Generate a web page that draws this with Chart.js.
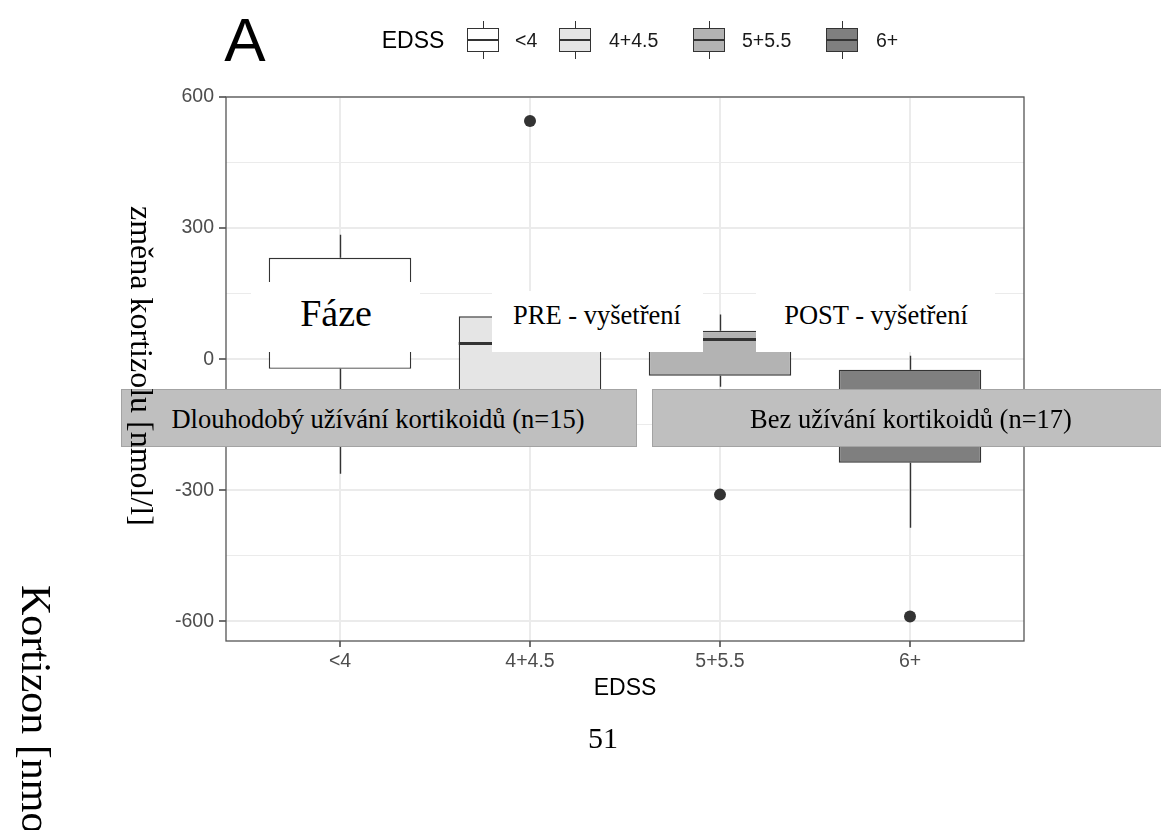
<!DOCTYPE html>
<html>
<head>
<meta charset="utf-8">
<script src="https://cdn.jsdelivr.net/npm/chart.js@4.4.0/dist/chart.umd.min.js"></script>
<style>
html, body { margin: 0; padding: 0; background: #fff; overflow: hidden; }
#wrap { position: relative; width: 1161px; height: 830px; overflow: hidden; }
#chart { position: absolute; left: 0; top: 0; }
.t { position: absolute; white-space: nowrap; transform: translate(-50%, -50%); line-height: 1.15; }
.serif { font-family: "Liberation Serif", "DejaVu Serif", serif; color: #000; }
.sans { font-family: "Liberation Sans", Arial, sans-serif; color: #000; }
.vert { position: absolute; writing-mode: vertical-rl; white-space: nowrap; line-height: 1; }
.wbox { position: absolute; background: #fff; }
.strip { position: absolute; background: #bfbfbf; border: 1px solid #a3a3a3; box-sizing: border-box; }
.key { position: absolute; width: 32px; height: 24px; border: 1.4px solid #333; box-sizing: border-box; }
.key .med { position: absolute; left: 0; right: 0; top: 9.5px; height: 2.4px; background: #333; }
.key .wu, .key .wd { position: absolute; left: 14.5px; width: 1.2px; height: 7px; background: #333; }
.key .wu { top: -8px; }
.key .wd { bottom: -8px; }
</style>
</head>
<body>
<div id="wrap">
  <canvas id="chart" width="1161" height="830"></canvas>

  <div class="t sans" style="left:245px; top:40px; font-size:62px;">A</div>
  <div class="t sans" style="left:413px; top:40px; font-size:23px;">EDSS</div>
  <div id="legend"></div>

  <div class="wbox" style="left:251px; top:282px; width:169px; height:70px;"></div>
  <div class="t serif" style="left:336px; top:314px; font-size:38px;">Fáze</div>
  <div class="wbox" style="left:492px; top:291px; width:211px; height:61px;"></div>
  <div class="t serif" style="left:597px; top:315px; font-size:26.5px;">PRE - vyšetření</div>
  <div class="wbox" style="left:756px; top:291px; width:239px; height:61px;"></div>
  <div class="t serif" style="left:876px; top:315px; font-size:26.5px;">POST - vyšetření</div>

  <div class="strip" style="left:121px; top:389px; width:516px; height:58px;"></div>
  <div class="t serif" style="left:378px; top:419px; font-size:26.5px;">Dlouhodobý užívání kortikoidů (n=15)</div>
  <div class="strip" style="left:652px; top:389px; width:520px; height:58px;"></div>
  <div class="t serif" style="left:911px; top:419px; font-size:26.5px;">Bez užívání kortikoidů (n=17)</div>

  <div class="vert serif" style="left:126px; top:206px; font-size:32px;">změna kortizolu [nmol/l]</div>
  <div class="vert serif" style="left:15px; top:585px; font-size:42px;">Kortizon [nmol/l]</div>

  <div class="t serif" style="left:603px; top:738px; font-size:30px;">51</div>
</div>

<script>
// EDSS groups and box statistics
const categories = ['<4', '4+4.5', '5+5.5', '6+'];
const lowerWhisker = [-262, -180, -63, -386];
const q1 = [-22, -130, -38, -237];
const median = [100, 36, 45, -130];
const q3 = [232, 98, 65, -24];
const upperWhisker = [285, 140, 102, 8];
const outliers = [[], [545], [-310], [-589]];
const yTicks = [-600, -300, 0, 300, 600];

const fills = ['#ffffff', '#e5e5e5', '#b3b3b3', '#7f7f7f'];
const ink = '#333333';

// legend keys (html)
const keyX = [467, 559, 693, 826];
const labX = [515, 609, 742, 876];
const legend = document.getElementById('legend');
categories.forEach(function (c, i) {
    const k = document.createElement('div');
    k.className = 'key';
    k.style.left = keyX[i] + 'px';
    k.style.top = '28px';
    k.style.background = fills[i];
    k.innerHTML = '<div class="wu"></div><div class="med"></div><div class="wd"></div>';
    legend.appendChild(k);
    const l = document.createElement('div');
    l.className = 'sans';
    l.style.cssText = 'position:absolute;top:28px;font-size:19.5px;line-height:24px;color:#1a1a1a;left:' + labX[i] + 'px';
    l.textContent = c;
    legend.appendChild(l);
});

const boxData = categories.map(function (c, i) { return { x: i + 1, y: [q1[i], q3[i]] }; });
const outlierData = [];
outliers.forEach(function (arr, i) {
    arr.forEach(function (v) { outlierData.push({ x: i + 1, y: v }); });
});

const boxPlugin = {
    id: 'boxes',
    beforeDatasetsDraw: function (chart) {
        const c = chart.ctx, xs = chart.scales.x, ys = chart.scales.y;
        c.save();
        c.strokeStyle = ink;
        c.lineWidth = 1.4;
        categories.forEach(function (cat, i) {
            const x = Math.round(xs.getPixelForValue(i + 1)) + 0.5;
            c.beginPath();
            c.moveTo(x, ys.getPixelForValue(upperWhisker[i]));
            c.lineTo(x, ys.getPixelForValue(q3[i]));
            c.moveTo(x, ys.getPixelForValue(q1[i]));
            c.lineTo(x, ys.getPixelForValue(lowerWhisker[i]));
            c.stroke();
        });
        c.restore();
    },
    afterDatasetsDraw: function (chart) {
        const c = chart.ctx, xs = chart.scales.x, ys = chart.scales.y;
        const bars = chart.getDatasetMeta(0).data;
        c.save();
        c.strokeStyle = ink;
        c.lineWidth = 3;
        categories.forEach(function (cat, i) {
            const x = xs.getPixelForValue(i + 1);
            const half = bars[i].width / 2;
            const y = ys.getPixelForValue(median[i]);
            c.beginPath();
            c.moveTo(x - half, y);
            c.lineTo(x + half, y);
            c.stroke();
        });
        // panel border
        const a = chart.chartArea;
        c.strokeStyle = '#555';
        c.lineWidth = 1.3;
        c.strokeRect(a.left, a.top, a.right - a.left, a.bottom - a.top);
        c.restore();
    }
};

const ctx = document.getElementById('chart').getContext('2d');
const chart = new Chart(ctx, {
    data: {
        datasets: [{
            type: 'bar',
            data: boxData,
            backgroundColor: fills,
            borderColor: ink,
            borderWidth: 1.4,
            borderSkipped: false,
            barPercentage: 0.75,
            categoryPercentage: 1
        }, {
            type: 'scatter',
            data: outlierData,
            pointRadius: 6,
            pointBackgroundColor: ink,
            pointBorderWidth: 0
        }]
    },
    options: {
        responsive: false,
        animation: false,
        layout: { padding: { top: 97, right: 137, left: 0, bottom: 124 } },
        plugins: { legend: { display: false }, tooltip: { enabled: false } },
        scales: {
            x: {
                type: 'linear',
                min: 0.4,
                max: 4.6,
                offset: false,
                afterFit: function (s) { s.height = 65; },
                afterBuildTicks: function (s) {
                    s.ticks = categories.map(function (c, i) { return { value: i + 1 }; });
                },
                ticks: {
                    callback: function (v) { return categories[v - 1]; },
                    font: { family: 'Liberation Sans', size: 19.5 },
                    color: '#4d4d4d',
                    padding: 3,
                    maxRotation: 0
                },
                grid: { offset: false, color: '#ebebeb', lineWidth: 2, tickColor: ink, tickLength: 6, tickWidth: 1.4 },
                border: { display: false },
                title: {
                    display: true,
                    text: 'EDSS',
                    font: { family: 'Liberation Sans', size: 23 },
                    color: '#000',
                    padding: { top: 4, bottom: 4 }
                }
            },
            y: {
                min: -645,
                max: 600,
                afterFit: function (s) { s.width = 226; },
                afterBuildTicks: function (s) {
                    const t = [];
                    for (let v = -600; v <= 600; v += 150) t.push({ value: v });
                    s.ticks = t;
                },
                ticks: {
                    callback: function (v) { return yTicks.indexOf(v) >= 0 ? String(v) : ''; },
                    font: { family: 'Liberation Sans', size: 19.5 },
                    color: '#4d4d4d',
                    padding: 5
                },
                grid: {
                    color: '#ebebeb',
                    lineWidth: function (c) { return yTicks.indexOf(c.tick.value) >= 0 ? 2 : 1; },
                    tickColor: function (c) { return yTicks.indexOf(c.tick.value) >= 0 ? ink : 'rgba(0,0,0,0)'; },
                    tickLength: 7,
                    tickWidth: 1.4
                },
                border: { display: false }
            }
        }
    },
    plugins: [boxPlugin]
});
</script>
</body>
</html>
